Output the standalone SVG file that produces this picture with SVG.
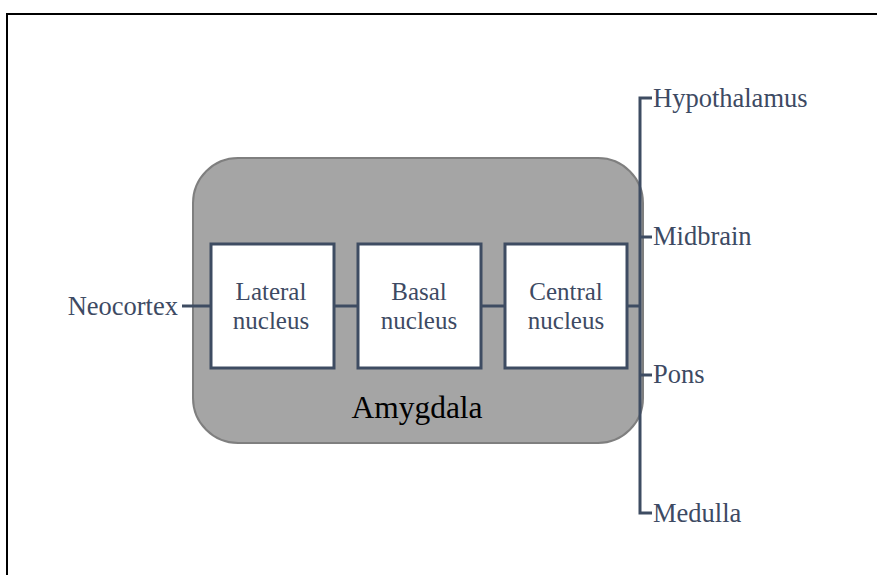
<svg xmlns="http://www.w3.org/2000/svg" width="877" height="575" viewBox="0 0 877 575">
<style>
.t{font-family:"Liberation Serif","Times New Roman",serif;font-size:26.5px;fill:#3d4a63}
.n{font-size:25px}
.box{fill:#ffffff;stroke:#3e4c62;stroke-width:3}
.ln{stroke:#3e4c62;stroke-width:3;fill:none}
</style>
<rect x="7" y="14" width="880" height="580" fill="#ffffff" stroke="#000000" stroke-width="2"/>
<g id="amygdala">
<rect x="193" y="158" width="450" height="285" rx="45" ry="45" fill="#a5a5a5" stroke="#7f7f7f" stroke-width="2"/>
<text x="417" y="418" text-anchor="middle" font-family="Liberation Serif, Times New Roman, serif" font-size="31.5" fill="#000000">Amygdala</text>
</g>
<g id="connectors">
<line class="ln" x1="182" y1="306" x2="211" y2="306"/>
<line class="ln" x1="334" y1="306" x2="358" y2="306"/>
<line class="ln" x1="481" y1="306" x2="505" y2="306"/>
<line class="ln" x1="627" y1="306" x2="640" y2="306"/>
<path class="ln" d="M652,98 H640 V513 H652"/>
<line class="ln" x1="640" y1="237" x2="652" y2="237"/>
<line class="ln" x1="640" y1="375" x2="652" y2="375"/>
</g>
<g id="lateral">
<rect class="box" x="211" y="244" width="123" height="124"/>
<text class="t n" x="271" y="300" text-anchor="middle">Lateral</text>
<text class="t n" x="271" y="329" text-anchor="middle">nucleus</text>
</g>
<g id="basal">
<rect class="box" x="358" y="244" width="123" height="124"/>
<text class="t n" x="419" y="300" text-anchor="middle">Basal</text>
<text class="t n" x="419" y="329" text-anchor="middle">nucleus</text>
</g>
<g id="central">
<rect class="box" x="505" y="244" width="122" height="124"/>
<text class="t n" x="566" y="300" text-anchor="middle">Central</text>
<text class="t n" x="566" y="329" text-anchor="middle">nucleus</text>
</g>
<g id="neocortex"><text class="t" x="178" y="315" text-anchor="end">Neocortex</text></g>
<g id="hypothalamus"><text class="t" x="653" y="107">Hypothalamus</text></g>
<g id="midbrain"><text class="t" x="653" y="245">Midbrain</text></g>
<g id="pons"><text class="t" x="653" y="383">Pons</text></g>
<g id="medulla"><text class="t" x="653" y="522">Medulla</text></g>
</svg>
